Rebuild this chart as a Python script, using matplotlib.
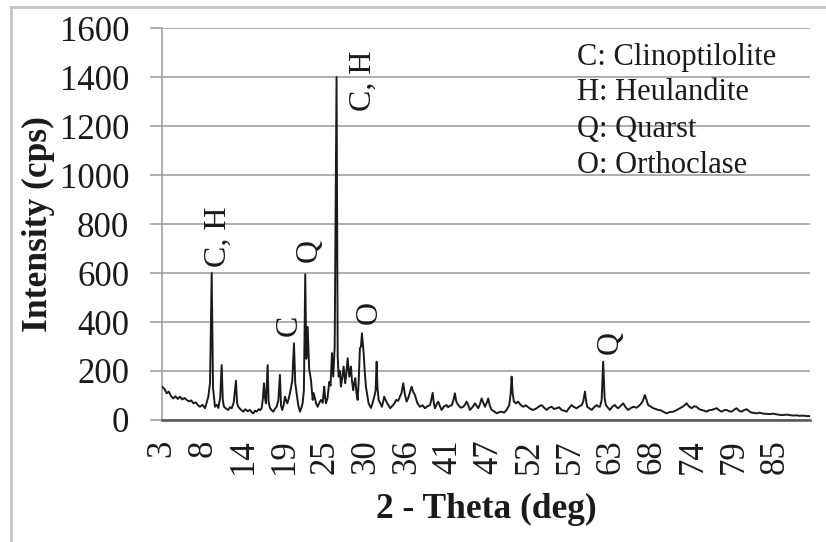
import numpy as np
import matplotlib.pyplot as plt
from matplotlib.lines import Line2D

plt.rcParams['font.family'] = ['Liberation Serif', 'DejaVu Serif']

# ---- data ----
two_theta = [
    3.00, 3.30, 3.63, 3.90, 4.20, 4.50, 4.80, 5.10, 5.40, 5.70, 6.00, 6.29, 6.60, 6.90, 7.17,
    7.50, 7.80, 8.06, 8.40, 8.73, 9.17, 9.40, 9.62, 9.80, 10.06, 10.30, 10.50, 10.75, 10.95,
    11.10, 11.26, 11.55, 11.83, 12.05, 12.28, 12.55, 12.85, 13.00, 13.16, 13.50, 13.83, 14.10,
    14.40, 14.72, 14.95, 15.16, 15.40, 15.61, 15.90, 16.10, 16.28, 16.45, 16.58, 16.72, 16.85,
    17.07, 17.20, 17.38, 17.60, 17.82, 18.05, 18.27, 18.50, 18.71, 18.85, 19.02, 19.20, 19.38,
    19.55, 19.69, 19.90, 20.04, 20.35, 20.58, 20.75, 20.93, 21.15, 21.38, 21.55, 21.73, 21.90,
    22.08, 22.22, 22.40, 22.60, 22.84, 23.07, 23.20, 23.37, 23.55, 23.73, 23.95, 24.17, 24.40,
    24.61, 24.70, 24.84, 25.05, 25.28, 25.45, 25.64, 25.81, 26.00, 26.25, 26.40, 26.53, 26.70,
    26.83, 27.00, 27.19, 27.40, 27.55, 27.73, 27.94, 28.17, 28.30, 28.47, 28.60, 28.74, 28.90,
    29.06, 29.20, 29.36, 29.50, 29.63, 29.86, 30.00, 30.16, 30.35, 30.52, 30.83, 31.05, 31.27,
    31.45, 31.59, 31.70, 31.86, 32.05, 32.29, 32.45, 32.60, 32.80, 33.00, 33.20, 33.40, 33.60,
    33.80, 34.00, 34.20, 34.45, 34.69, 34.90, 35.13, 35.35, 35.58, 35.80, 36.00, 36.25, 36.45,
    36.69, 37.00, 37.35, 37.70, 38.02, 38.35, 38.69, 38.85, 39.05, 39.20, 39.35, 39.55, 39.79,
    40.00, 40.24, 40.55, 40.91, 41.10, 41.35, 41.60, 41.85, 42.01, 42.20, 42.45, 42.80, 43.12,
    43.35, 43.57, 43.80, 44.01, 44.35, 44.68, 44.90, 45.12, 45.35, 45.57, 45.80, 46.01, 46.25,
    46.45, 46.65, 46.90, 47.25, 47.57, 47.90, 48.23, 48.55, 48.90, 49.25, 49.45, 49.57, 49.70,
    49.87, 50.15, 50.44, 50.75, 51.11, 51.45, 51.78, 52.10, 52.44, 52.89, 53.20, 53.56, 53.90,
    54.23, 54.55, 54.89, 55.20, 55.56, 55.90, 56.22, 56.55, 56.89, 57.20, 57.55, 57.90, 58.22,
    58.55, 58.89, 59.10, 59.33, 59.50, 59.63, 59.90, 60.22, 60.55, 60.89, 61.10, 61.32, 61.55,
    61.76, 61.95, 62.12, 62.40, 62.65, 63.00, 63.32, 63.55, 63.76, 64.10, 64.43, 64.75, 65.09,
    65.40, 65.76, 66.20, 66.65, 67.00, 67.31, 67.50, 67.75, 68.10, 68.42, 68.75, 69.09, 69.40,
    69.75, 70.20, 70.60, 71.08, 71.50, 71.97, 72.40, 72.87, 73.20, 73.53, 73.85, 74.20, 74.50,
    74.86, 75.20, 75.53, 75.85, 76.20, 76.50, 76.86, 77.20, 77.53, 77.85, 78.19, 78.50, 78.86,
    79.20, 79.52, 79.85, 80.19, 80.50, 80.86, 81.20, 81.52, 81.85, 82.19, 82.60, 83.07, 83.50,
    83.96, 84.40, 84.85, 85.30, 85.73, 86.20, 86.62, 87.05, 87.51, 87.95, 88.39, 88.85, 89.28,
]
intensity = [
    136, 128, 109, 116, 98, 88, 97, 86, 95, 84, 90, 82, 76, 80, 68,
    72, 60, 54, 62, 48, 95, 150, 600, 130, 54, 62, 49, 90, 224,
    80, 54, 46, 41, 52, 48, 70, 160, 70, 54, 42, 34, 44,
    36, 41, 32, 27, 38, 34, 44, 40, 49, 90, 150, 90, 68,
    224, 75, 49, 40, 34, 46, 54, 80, 184, 60, 41, 60, 95,
    78, 68, 90, 109, 160, 313, 150, 109, 60, 34, 48, 68, 120,
    595, 250, 380, 210, 163, 82, 110, 89, 66, 54, 70, 82, 70,
    136, 100, 68, 90, 156, 140, 273, 177, 300, 1400, 260, 177, 200,
    136, 170, 218, 150, 190, 252, 177, 218, 160, 122, 150, 171, 110,
    82, 160, 292, 300, 354, 272, 200, 136, 100, 68, 49, 70, 95,
    120, 238, 130, 82, 70, 54, 75, 95, 80, 68, 58, 48, 55,
    61, 70, 82, 78, 95, 110, 150, 105, 75, 90, 110, 136, 115,
    102, 70, 54, 60, 48, 56, 61, 80, 111, 70, 48, 62, 75,
    58, 41, 55, 61, 52, 58, 60, 85, 109, 75, 61, 50, 54,
    62, 75, 60, 41, 52, 68, 58, 48, 65, 88, 70, 54, 70,
    88, 60, 41, 35, 27, 32, 34, 30, 41, 61, 110, 177, 110,
    75, 68, 75, 62, 54, 60, 52, 45, 41, 48, 55, 61, 50,
    41, 50, 54, 45, 48, 52, 41, 38, 34, 48, 61, 52, 48,
    55, 61, 75, 116, 75, 54, 48, 41, 52, 61, 55, 54, 80,
    238, 90, 61, 50, 41, 55, 61, 52, 48, 58, 68, 52, 41,
    48, 54, 50, 61, 75, 102, 85, 61, 55, 48, 45, 41, 40,
    34, 27, 32, 34, 40, 48, 55, 68, 55, 48, 56, 54, 45,
    41, 38, 34, 40, 41, 44, 48, 40, 34, 40, 41, 36, 34,
    42, 48, 38, 34, 40, 44, 36, 30, 29, 27, 30, 26, 25,
    24, 26, 23, 21, 20, 22, 20, 18, 19, 17, 18, 16, 16,
]

x_tick_labels = ['3', '8', '14', '19', '25', '30', '36', '41', '47', '52',
                 '57', '63', '68', '74', '79', '85']
y_ticks = [0, 200, 400, 600, 800, 1000, 1200, 1400, 1600]

# phase labels over the peaks: (text, 2theta, intensity)
peak_labels = [
    ('C, H', 10.55, 750),
    ('Q', 22.55, 690),
    ('C', 20.0, 385),
    ('C, H', 29.85, 1385),
    ('O', 30.65, 440),
    ('Q', 62.75, 318),
]
legend_lines = ['C: Clinoptilolite', 'H: Heulandite', 'Q: Quarst', 'O: Orthoclase']

# ---- figure ----
fig = plt.figure(figsize=(8.26, 5.42), dpi=100)
ax = fig.add_axes([0.1961, 0.2251, 0.7845, 0.7232])

ax.plot(two_theta, intensity, color='#1a1a1a', lw=1.4, zorder=3)

ax.set_xlim(3.0, 89.3)
ax.set_ylim(0, 1600)

# excel-like category labels every 5.44 deg
x_tick_pos = 3.0 + 5.44 * np.arange(len(x_tick_labels))
ax.set_xticks(x_tick_pos)
ax.set_xticklabels(x_tick_labels, rotation=90, fontsize=25, color='#1a1a1a')
ax.tick_params(axis='x', length=0, pad=14)

ax.set_yticks(y_ticks)
ax.set_yticklabels([str(v) for v in y_ticks], fontsize=25, color='#1a1a1a')
ax.tick_params(axis='y', length=8.6, width=1.1, color='#999999', pad=15)

ax.grid(axis='y', color='#999999', lw=1.1, zorder=0)
ax.set_axisbelow(True)

for side in ['top', 'right']:
    ax.spines[side].set_visible(False)
ax.spines['left'].set_color('#999999')
ax.spines['left'].set_linewidth(1.1)
ax.spines['bottom'].set_color('#555555')
ax.spines['bottom'].set_linewidth(1.8)

ax.set_xlabel('2 - Theta (deg)', fontsize=25.5, fontweight='bold', color='#1a1a1a')
ax.set_ylabel('Intensity (cps)', fontsize=25.5, fontweight='bold', color='#1a1a1a')
ax.xaxis.set_label_coords(0.5, -0.186)
ax.yaxis.set_label_coords(-0.165, 0.5)

for txt, xx, yy in peak_labels:
    ax.text(xx, yy, txt, rotation=90, ha='center', va='center', fontsize=23,
            color='#1a1a1a', zorder=4)

legend_y = [1448, 1306, 1155, 1008]
for txt, yy in zip(legend_lines, legend_y):
    ax.text(58.26, yy, txt, ha='left', va='baseline', fontsize=22, color='#1a1a1a', zorder=4)

# light frame around the chart
fig.add_artist(Line2D([11 / 826, 11 / 826], [0, 1 - 7 / 542], transform=fig.transFigure,
                      color='#c4c4c4', lw=2))
fig.add_artist(Line2D([11 / 826, 1], [1 - 7 / 542, 1 - 7 / 542], transform=fig.transFigure,
                      color='#c4c4c4', lw=2))

fig.savefig('out.png', dpi=100)
